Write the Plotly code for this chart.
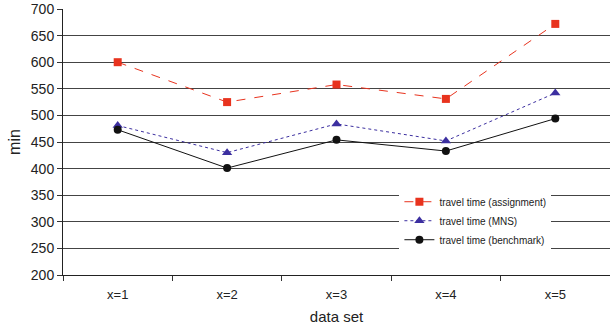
import plotly.graph_objects as go

categories = ["x=1", "x=2", "x=3", "x=4", "x=5"]
assignment = [600, 525, 558, 531, 672]
mns = [481, 430, 484, 452, 542]
benchmark = [473, 401, 454, 433, 494]

fig = go.Figure()
fig.add_trace(go.Scatter(x=categories, y=assignment, name="travel time (assignment)",
                         mode="lines+markers",
                         line=dict(color="#e8331e", width=1, dash="dash"),
                         marker=dict(symbol="square", size=8, color="#e8331e")))
fig.add_trace(go.Scatter(x=categories, y=mns, name="travel time (MNS)",
                         mode="lines+markers",
                         line=dict(color="#3c2fa0", width=1, dash="dot"),
                         marker=dict(symbol="triangle-up", size=9, color="#3c2fa0")))
fig.add_trace(go.Scatter(x=categories, y=benchmark, name="travel time (benchmark)",
                         mode="lines+markers",
                         line=dict(color="#111111", width=1),
                         marker=dict(symbol="circle", size=8, color="#111111")))

fig.update_layout(
    width=610, height=331,
    margin=dict(l=63, r=0, t=9, b=56),
    paper_bgcolor="white", plot_bgcolor="white",
    font=dict(family="Liberation Sans, Arial", color="#222", size=13),
    showlegend=True,
    legend=dict(x=0.615, y=0.33, xanchor="left", yanchor="top",
                bgcolor="white", font=dict(size=10), tracegroupgap=0,
                itemwidth=30),
)
fig.update_xaxes(type="category", tickson="boundaries", ticks="outside", ticklen=5,
                 tickcolor="#333", showline=True, linecolor="#222", linewidth=1,
                 showgrid=False, tickfont=dict(size=13), ticklabelstandoff=7,
                 title=dict(text="data set", font=dict(size=15), standoff=10),
                 range=[-0.5, 4.5])
fig.update_yaxes(range=[200, 700], dtick=50, ticks="outside", ticklen=5, tickcolor="#333",
                 showline=True, linecolor="#222", linewidth=1,
                 showgrid=True, gridcolor="#444", gridwidth=1,
                 tickfont=dict(size=14), zeroline=False,
                 title=dict(text="min", font=dict(size=16), standoff=6))

fig.write_html("out.html")
